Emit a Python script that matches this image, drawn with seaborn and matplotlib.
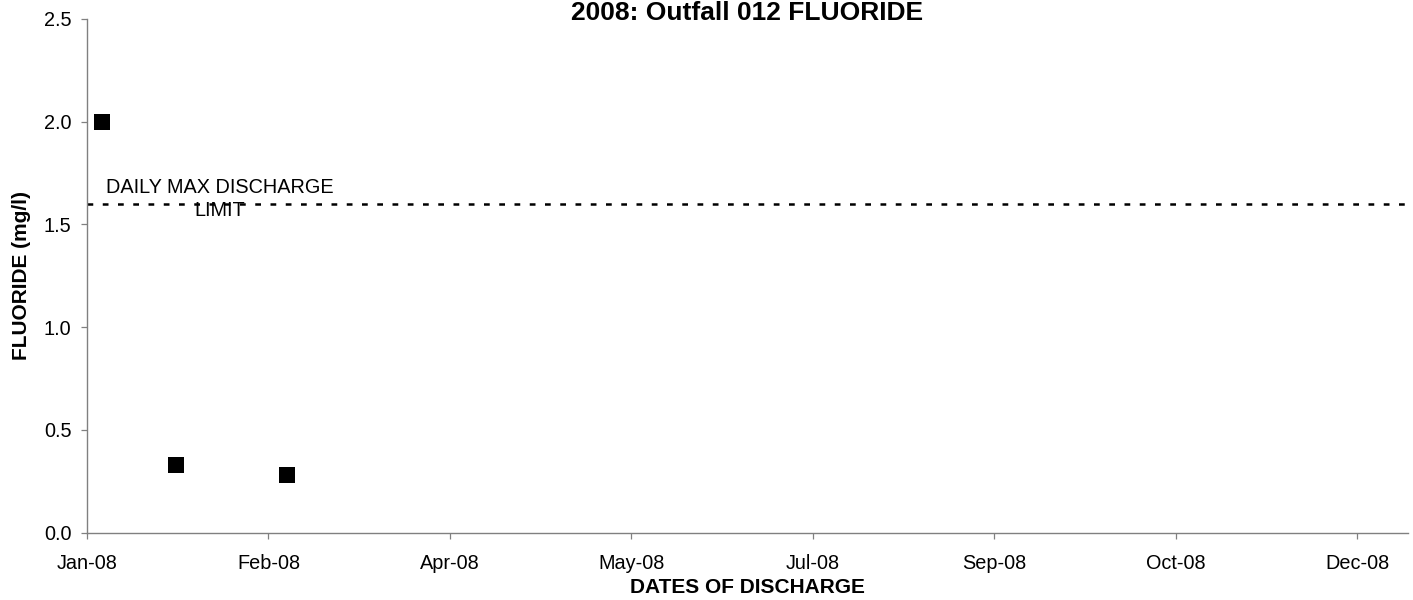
import matplotlib
matplotlib.use("Agg")
import matplotlib.pyplot as plt
import matplotlib.ticker as mticker
import seaborn as sns
import pandas as pd

# ── data ─────────────────────────────────────────────────────────────────────
sample_dates = ["2008-01-10 00:00", "2008-01-29 12:00", "2008-02-28 00:00"]
fluoride = [2.0, 0.33, 0.28]
daily_max_limit = 1.6

tick_dates = ["2008-01-06", "2008-02-23", "2008-04-11", "2008-05-29",
              "2008-07-16", "2008-09-02", "2008-10-20", "2008-12-07"]
tick_labels = ["Jan-08", "Feb-08", "Apr-08", "May-08",
               "Jul-08", "Sep-08", "Oct-08", "Dec-08"]
y_ticks = [0.0, 0.5, 1.0, 1.5, 2.0, 2.5]
x_range = ["2008-01-06 00:00", "2008-12-20 12:00"]
limit_label_date = "2008-02-10"

sns.set_theme(style="white")
plt.rcParams["font.family"] = ["Liberation Sans", "DejaVu Sans"]
plt.rcParams["text.color"] = "black"
plt.rcParams["axes.labelcolor"] = "black"

AXIS_GREY = "#808080"

df = pd.DataFrame({"date": pd.to_datetime(sample_dates, format="ISO8601"),
                   "fluoride": fluoride})

fig = plt.figure(figsize=(14.13, 6), dpi=100)
ax = fig.add_axes([0.0616, 0.1122, 0.9349, 0.8562])

sns.scatterplot(data=df, x="date", y="fluoride", marker="s", color="black",
                s=120, linewidth=0, ax=ax, zorder=3)

# daily max discharge limit
ax.axhline(daily_max_limit, xmin=0, xmax=1.004, color="black", lw=1.8,
           linestyle=(0, (2.3, 3.8)), clip_on=False)
ax.text(pd.Timestamp(limit_label_date), 1.625, "DAILY MAX DISCHARGE\nLIMIT",
        ha="center", va="center", multialignment="center",
        fontsize=14.3, linespacing=1.25, color="black")

ax.set_xlim(pd.to_datetime(x_range, format="ISO8601"))
ax.set_xticks(pd.to_datetime(tick_dates, format="ISO8601"))
ax.set_xticklabels(tick_labels)
ax.set_ylim(y_ticks[0], y_ticks[-1])
ax.set_yticks(y_ticks)
ax.yaxis.set_major_formatter(mticker.FormatStrFormatter("%.1f"))

for side in ("top", "right"):
    ax.spines[side].set_visible(False)
for side in ("left", "bottom"):
    ax.spines[side].set_color(AXIS_GREY)
    ax.spines[side].set_linewidth(1.0)
ax.tick_params(axis="both", direction="out", length=4.3, width=0.9,
               color=AXIS_GREY, labelcolor="black", labelsize=14.3)
ax.tick_params(axis="x", pad=11, bottom=True)
ax.tick_params(axis="y", pad=7, left=True)
ax.grid(False)

ax.set_title("2008: Outfall 012 FLUORIDE", fontsize=19, fontweight="bold",
             pad=-0.5)
ax.set_xlabel("DATES OF DISCHARGE", fontsize=15, fontweight="bold", labelpad=4)
ax.set_ylabel("FLUORIDE (mg/l)", fontsize=15, fontweight="bold", labelpad=9)

fig.savefig("out.png", dpi=100)
